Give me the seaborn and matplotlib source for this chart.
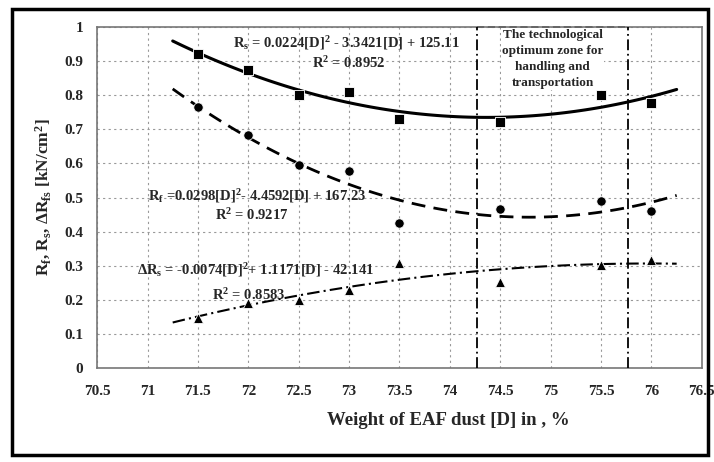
import numpy as np
import pandas as pd
import matplotlib.pyplot as plt
import seaborn as sns
from matplotlib.patches import Rectangle

# values
dust = [71.5, 72, 72.5, 73, 73.5, 74.5, 75.5, 76]
r_s = [0.92, 0.874, 0.80, 0.81, 0.73, 0.72, 0.80, 0.777]
r_f = [0.765, 0.683, 0.595, 0.578, 0.425, 0.466, 0.49, 0.46]
delta_rs = [0.147, 0.19, 0.20, 0.229, 0.308, 0.252, 0.302, 0.317]
xticks = [70.5, 71, 71.5, 72, 72.5, 73, 73.5, 74, 74.5, 75, 75.5, 76, 76.5]
yticks = [0, 0.1, 0.2, 0.3, 0.4, 0.5, 0.6, 0.7, 0.8, 0.9, 1]
zone = [74.27, 75.77]

df = pd.DataFrame({'D': dust, 'Rs': r_s, 'Rf': r_f, 'dRs': delta_rs})

sns.set_style("white")
plt.rcParams['font.family'] = ['Liberation Serif', 'DejaVu Serif']
plt.rcParams['font.weight'] = 'bold'
plt.rcParams['mathtext.fontset'] = 'custom'
plt.rcParams['mathtext.rm'] = 'Liberation Serif:bold'
plt.rcParams['mathtext.it'] = 'Liberation Serif:bold'

fig = plt.figure(figsize=(7.14, 4.62), dpi=100)
ax = fig.add_axes([0.136, 0.2035, 0.847, 0.738])

# trend lines: 2nd order fits of each series
xs = np.linspace(71.25, 76.25, 100)
for col, ls, lw in [('Rs', '-', 2.2), ('Rf', (0, (5, 3)), 2.0), ('dRs', (0, (6, 2, 1, 2)), 1.5)]:
    p = np.polyfit(df['D'], df[col], 2)
    sns.lineplot(x=xs, y=np.polyval(p, xs), ax=ax, color='black', lw=lw, linestyle=ls)

sns.scatterplot(data=df, x='D', y='Rs', marker='s', s=60, color='black', ax=ax, zorder=5)
sns.scatterplot(data=df, x='D', y='Rf', marker='o', s=45, color='black', ax=ax, zorder=5)
sns.scatterplot(data=df, x='D', y='dRs', marker='^', s=50, color='black', ax=ax, zorder=5)

# optimum zone
for xv in zone:
    ax.axvline(xv, color='black', lw=1.3, linestyle=(0, (6, 2, 1, 2)), zorder=3)
ax.plot(zone, [1, 1], color='black', lw=1.3, linestyle=(0, (4, 2)), clip_on=False)
ax.text(sum(zone) / 2, 0.995, 'The technological\noptimum zone for\nhandling and\ntransportation',
        ha='center', va='top', fontsize=9.5, fontweight='bold', linespacing=1.45,
        bbox=dict(facecolor='white', edgecolor='none', pad=0.5))

# equations
eq = dict(fontsize=10.5, fontweight='bold', va='center')
ax.text(71.85, 0.953, 'R$_s$ = 0.0224[D]$^2$ - 3.3421[D] + 125.11', **eq)
ax.text(73.0, 0.895, 'R$^2$ = 0.8952', ha='center', **eq)
ax.text(71.0, 0.505, 'R$_f$ =0.0298[D]$^2$- 4.4592[D] + 167.23', **eq)
ax.text(72.03, 0.449, 'R$^2$ = 0.9217', ha='center', **eq)
ax.text(70.9, 0.287, 'ΔR$_s$ = -0.0074[D]$^2$+ 1.1171[D] - 42.141', **eq)
ax.text(72.0, 0.214, 'R$^2$ = 0.8583', ha='center', **eq)

ax.set_xlim(70.5, 76.5)
ax.set_ylim(0, 1)
ax.set_xticks(xticks)
ax.set_xticklabels([f'{t:g}' for t in xticks], fontsize=11, fontweight='bold')
ax.set_yticks(yticks)
ax.set_yticklabels([f'{t:g}' for t in yticks], fontsize=11, fontweight='bold')
ax.tick_params(axis='x', pad=12, length=0)
ax.tick_params(axis='y', pad=10, length=0)
ax.grid(True, color='#999999', lw=0.8, linestyle=(0, (2, 3)))
for sp in ax.spines.values():
    sp.set_color('#777777')
    sp.set_linewidth(1.2)
ax.set_xlabel('Weight of EAF dust [D] in , %', fontsize=13.5, fontweight='bold')
ax.xaxis.set_label_coords(0.58, -0.13)
ax.set_ylabel('R$_f$, R$_s$, ΔR$_{fs}$ [kN/cm$^2$]', fontsize=12.5, fontweight='bold', labelpad=8)

# outer frame of the scanned figure
fig.patches.append(Rectangle((0.017, 0.015), 0.975, 0.965, transform=fig.transFigure,
                             fill=False, edgecolor='black', lw=2.5))

fig.savefig('out.png', dpi=100)
